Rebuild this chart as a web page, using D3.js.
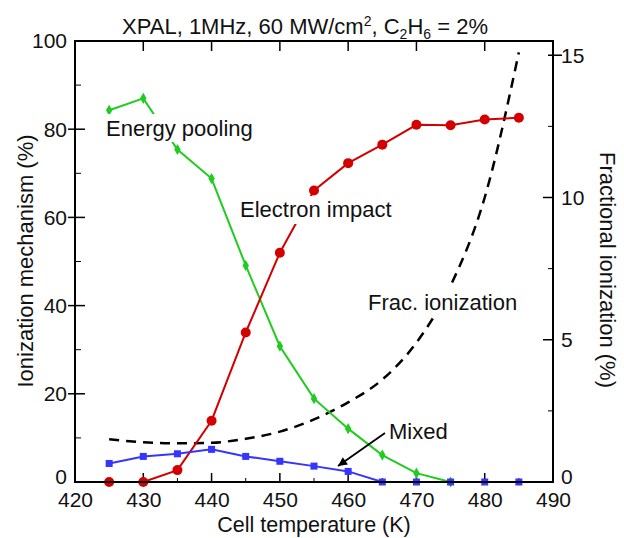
<!DOCTYPE html>
<html><head><meta charset="utf-8">
<script src="https://cdn.jsdelivr.net/npm/d3@7"></script>
<style>
html,body{margin:0;padding:0;background:#fff;}
text{font-family:"Liberation Sans",Arial,sans-serif;fill:#111;}
</style></head>
<body><svg id="c" width="624" height="538"></svg>
<script>
const temps = [425,430,435,440,445,450,455,460,465,470,475,480,485];
const energyPooling = [84.3,87.0,75.4,68.8,49.1,30.8,18.9,12.1,6.1,2.0,0,0,0];
const electronImpact = [0,0,2.7,13.9,33.9,52.0,66.1,72.3,76.5,81.0,80.9,82.2,82.6];
const mixed = [4.2,5.8,6.4,7.4,5.8,4.7,3.6,2.4,0,0,0,0,0];
const fracIonization = [1.50,1.40,1.36,1.38,1.52,1.77,2.2,2.8,3.6,4.9,6.9,10.0,15.1];
const xTicks = [420,430,440,450,460,470,480,490];
const xMinor = [425,435,445,455,465,475,485];
const yLTicks = [0,20,40,60,80,100];
const yLMinor = [10,30,50,70,90];
const yRTicks = [0,5,10,15];
const yRMinor = [2.5,7.5,12.5];

const svg = d3.select("#c");
const L=75,R=553,T=41,B=482;
const x = d3.scaleLinear().domain([420,490]).range([L,R]);
const yL = d3.scaleLinear().domain([0,100]).range([B,T]);
const yR = d3.scaleLinear().domain([0,15.5]).range([B,T]);

// ticks
const tk = svg.append("g").attr("stroke","#000").attr("stroke-width",1.5);
xTicks.filter(v=>v>420&&v<490).forEach(v=>{
  tk.append("line").attr("x1",x(v)).attr("x2",x(v)).attr("y1",B).attr("y2",B-9);
  tk.append("line").attr("x1",x(v)).attr("x2",x(v)).attr("y1",T).attr("y2",T+10);
});
xMinor.forEach(v=>{
  tk.append("line").attr("x1",x(v)).attr("x2",x(v)).attr("y1",B).attr("y2",B-4).attr("stroke-width",1);
});
yLTicks.filter(v=>v>0&&v<100).forEach(v=>{
  tk.append("line").attr("x1",L-7).attr("x2",L+10).attr("y1",yL(v)).attr("y2",yL(v));
});
yLMinor.forEach(v=>{
  tk.append("line").attr("x1",L).attr("x2",L+6).attr("y1",yL(v)).attr("y2",yL(v)).attr("stroke-width",1);
});
yRTicks.filter(v=>v>0).forEach(v=>{
  if(v===15) tk.append("line").attr("x1",R-5).attr("x2",R+9).attr("y1",yR(v)).attr("y2",yR(v));
  else tk.append("line").attr("x1",R-10).attr("x2",R).attr("y1",yR(v)).attr("y2",yR(v));
});
yRMinor.forEach(v=>{
  tk.append("line").attr("x1",R-5).attr("x2",R).attr("y1",yR(v)).attr("y2",yR(v)).attr("stroke-width",1);
});

// tick labels via axes (no tick lines)
const fs = "21px";
const gx = svg.append("g").attr("transform",`translate(0,${B})`)
  .call(d3.axisBottom(x).tickValues(xTicks).tickSize(0).tickPadding(0).tickFormat(d3.format("d")));
gx.select(".domain").remove();
gx.selectAll("text").attr("font-size",fs).attr("y",25).attr("dy",0).attr("fill","#111")
  .style("font-family","Liberation Sans, Arial, sans-serif");
const gl = svg.append("g").attr("transform",`translate(${L},0)`)
  .call(d3.axisLeft(yL).tickValues(yLTicks).tickSize(0).tickPadding(8).tickFormat(d3.format("d")));
gl.select(".domain").remove();
gl.selectAll("text").attr("font-size",fs).attr("dy",d=>d===0?"0.08em":"0.33em").attr("fill","#111")
  .style("font-family","Liberation Sans, Arial, sans-serif");
const gr = svg.append("g").attr("transform",`translate(${R},0)`)
  .call(d3.axisRight(yR).tickValues(yRTicks).tickSize(0).tickPadding(8).tickFormat(d3.format("d")));
gr.select(".domain").remove();
gr.selectAll("text").attr("font-size",fs).attr("dy",d=>d===0?"0.08em":"0.33em").attr("fill","#111")
  .style("font-family","Liberation Sans, Arial, sans-serif");

// data lines
const pts = arr => temps.map((t,i)=>[t,arr[i]]);
const lineL = d3.line().x(d=>x(d[0])).y(d=>yL(d[1]));
const lineR = d3.line().x(d=>x(d[0])).y(d=>yR(d[1])).curve(d3.curveMonotoneX);

svg.append("path").datum(pts(fracIonization)).attr("d",lineR)
  .attr("fill","none").attr("stroke","#000").attr("stroke-width",2.5).attr("stroke-dasharray","10,7");

const green="#1fcc1f", red="#d40000", blue="#3535ff";
const epPts = pts(energyPooling).filter(d=>d[0]<=475);
svg.append("path").datum(epPts).attr("d",lineL).attr("fill","none").attr("stroke",green).attr("stroke-width",2);
svg.append("g").selectAll("path").data(epPts).join("path")
  .attr("transform",d=>`translate(${x(d[0])},${yL(d[1])})`)
  .attr("d",d3.symbol(d3.symbolDiamond,36)).attr("fill",green);

svg.append("path").datum(pts(electronImpact)).attr("d",lineL).attr("fill","none").attr("stroke",red).attr("stroke-width",2);
svg.append("g").selectAll("circle").data(pts(electronImpact)).join("circle")
  .attr("cx",d=>x(d[0])).attr("cy",d=>yL(d[1])).attr("r",5).attr("fill",red);

svg.append("path").datum(pts(mixed)).attr("d",lineL).attr("fill","none").attr("stroke",blue).attr("stroke-width",2);
svg.append("g").selectAll("rect").data(pts(mixed)).join("rect")
  .attr("x",d=>x(d[0])-3.5).attr("y",d=>yL(d[1])-3.5).attr("width",7).attr("height",7).attr("fill",blue);

// frame
svg.append("rect").attr("x",L).attr("y",T).attr("width",R-L).attr("height",B-T)
  .attr("fill","none").attr("stroke","#000").attr("stroke-width",2);

// annotations with white backgrounds
function label(txt,tx,ty,padT,padB){
  const g = svg.append("g");
  const r = g.append("rect").attr("fill","#fff");
  const t = g.append("text").attr("x",tx).attr("y",ty).attr("font-size","22px").text(txt);
  const bb = t.node().getBBox();
  r.attr("x",bb.x-2).attr("width",bb.width+4).attr("y",ty-padT).attr("height",padT+padB);
}
label("Energy pooling",106,136,22,6);
label("Electron impact",240,217,21,7);
label("Frac. ionization",368,310,27,7);
label("Mixed",389,439,0,0);

// arrow
svg.append("defs").append("marker").attr("id","ah").attr("viewBox","0 0 10 10")
  .attr("refX",10).attr("refY",5).attr("markerWidth",13).attr("markerHeight",9)
  .attr("markerUnits","userSpaceOnUse").attr("orient","auto")
  .append("path").attr("d","M0,0L10,5L0,10z").attr("fill","#000");
svg.append("line").attr("x1",385).attr("y1",433).attr("x2",338).attr("y2",466)
  .attr("stroke","#000").attr("stroke-width",1.8).attr("marker-end","url(#ah)");

// axis titles
svg.append("text").attr("x",314).attr("y",532).attr("text-anchor","middle").attr("font-size","21.5px")
  .text("Cell temperature (K)");
svg.append("text").attr("transform","translate(33,261) rotate(-90)").attr("text-anchor","middle")
  .attr("font-size","22px").text("Ionization mechanism (%)");
svg.append("text").attr("transform","translate(600,270) rotate(90)").attr("text-anchor","middle")
  .attr("font-size","22px").text("Fractional ionization (%)");

// title
const title = svg.append("text").attr("x",305).attr("y",34).attr("text-anchor","middle").attr("font-size","22px");
title.append("tspan").text("XPAL, 1MHz, 60 MW/cm");
title.append("tspan").attr("font-size","14px").attr("dy",-8).text("2");
title.append("tspan").attr("dy",8).text(", C");
title.append("tspan").attr("font-size","14px").attr("dy",5).text("2");
title.append("tspan").attr("dy",-5).text("H");
title.append("tspan").attr("font-size","14px").attr("dy",5).text("6");
title.append("tspan").attr("dy",-5).text(" = 2%");
</script></body></html>
